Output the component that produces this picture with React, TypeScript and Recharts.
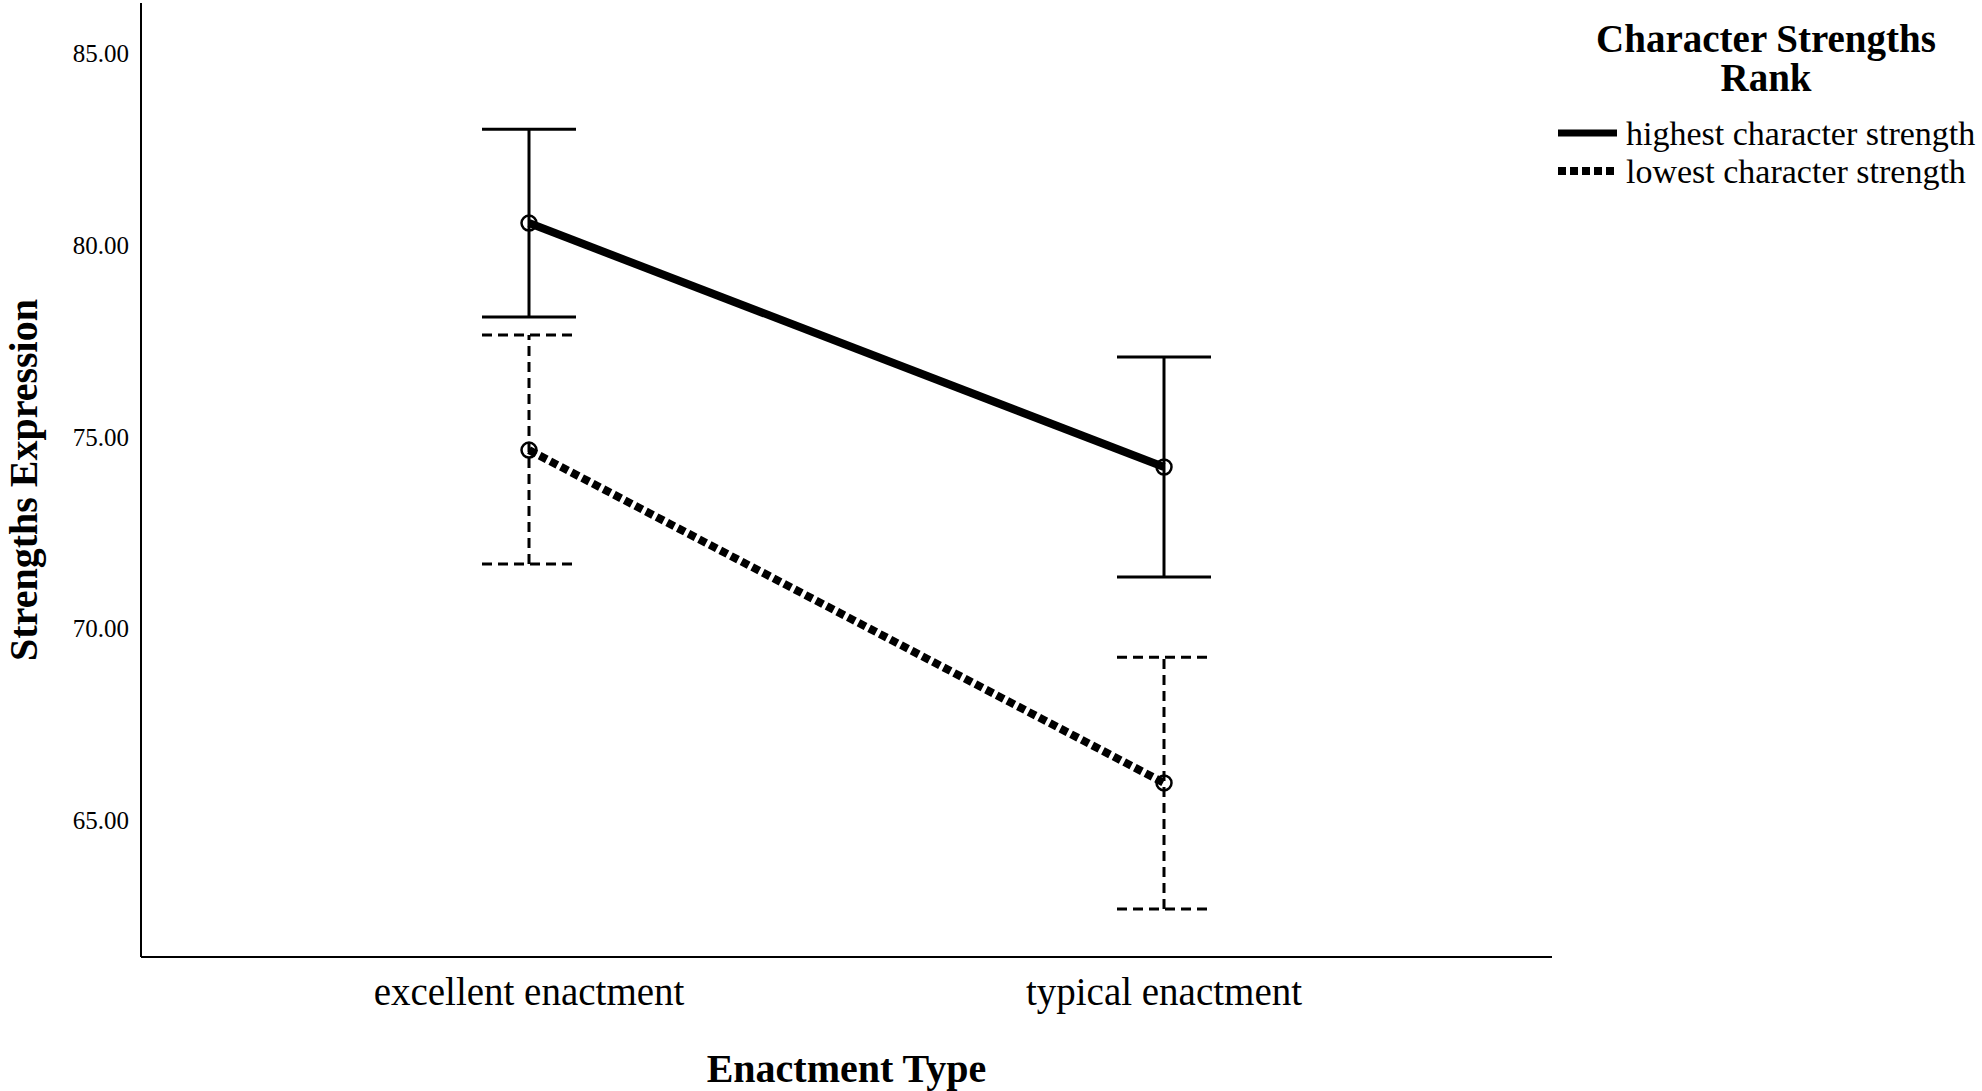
import React from 'react';
import { LineChart, Line, XAxis, YAxis, ErrorBar, Legend } from 'recharts';

const enactmentTypes = ['excellent enactment', 'typical enactment'];

// highest character strength: mean and CI bounds
const highestMean = [80.57, 74.21];
const highestLower = [78.12, 71.34];
const highestUpper = [83.02, 77.08];

// lowest character strength
const lowestMean = [74.65, 65.97];
const lowestLower = [71.68, 62.68];
const lowestUpper = [77.65, 69.25];

const yTicks = [65, 70, 75, 80, 85];
const seriesNames = ['highest character strength', 'lowest character strength'];

const data = enactmentTypes.map((type, i) => ({
    type,
    highest: highestMean[i],
    highestErr: [highestMean[i] - highestLower[i], highestUpper[i] - highestMean[i]],
    lowest: lowestMean[i],
    lowestErr: [lowestMean[i] - lowestLower[i], lowestUpper[i] - lowestMean[i]],
}));

const FONT = '"Liberation Serif", "Times New Roman", serif';

const renderLegend = () => (
    <svg width={442} height={200} style={{ overflow: 'visible' }}>
        <text x={226} y={52} textAnchor="middle" fontFamily={FONT} fontWeight="bold" fontSize={39} fill="#000">Character Strengths</text>
        <text x={226} y={91} textAnchor="middle" fontFamily={FONT} fontWeight="bold" fontSize={39} fill="#000">Rank</text>
        <line x1={18} y1={133} x2={77} y2={133} stroke="#000" strokeWidth={7} />
        <text x={86} y={145} fontFamily={FONT} fontSize={34} fill="#000">{seriesNames[0]}</text>
        <line x1={18} y1={171} x2={77} y2={171} stroke="#000" strokeWidth={8} strokeDasharray="8 4" />
        <text x={86} y={183} fontFamily={FONT} fontSize={34} fill="#000">{seriesNames[1]}</text>
    </svg>
);

const YLabel = (props: any) => {
    const vb = props.viewBox;
    const cx = vb.x + 37;
    const cy = vb.y + vb.height / 2;
    return (
        <text x={cx} y={cy} transform={`rotate(-90, ${cx}, ${cy})`} textAnchor="middle" fontFamily={FONT} fontWeight="bold" fontSize={40} fill="#000">
            Strengths Expression
        </text>
    );
};

const XLabel = (props: any) => {
    const vb = props.viewBox;
    return (
        <text x={vb.x + vb.width / 2} y={vb.y + 125} textAnchor="middle" fontFamily={FONT} fontWeight="bold" fontSize={40} fill="#000">
            Enactment Type
        </text>
    );
};

export default function App() {
    return (
        <div style={{ position: 'absolute', left: 0, top: 0, background: '#fff', fontFamily: FONT }}>
            <LineChart width={1982} height={1091} data={data} margin={{ top: 3, right: 430, bottom: 0, left: 0 }}>
                <XAxis
                    dataKey="type"
                    height={134}
                    padding={{ left: 388, right: 388 }}
                    tickLine={false}
                    tickSize={0}
                    tickMargin={20}
                    axisLine={{ stroke: '#000', strokeWidth: 2 }}
                    tick={{ fill: '#000', fontSize: 39, fontFamily: FONT }}
                    label={XLabel}
                />
                <YAxis
                    width={141}
                    domain={[61.43, 86.31]}
                    ticks={yTicks}
                    allowDataOverflow
                    tickFormatter={(v: number) => v.toFixed(2)}
                    tickLine={false}
                    tickSize={0}
                    tickMargin={12}
                    axisLine={{ stroke: '#000', strokeWidth: 2 }}
                    tick={{ fill: '#000', fontSize: 25, fontFamily: FONT }}
                    label={YLabel}
                />
                <Legend layout="vertical" align="center" verticalAlign="middle" content={renderLegend}
                    wrapperStyle={{ left: 1540, top: 0, width: 442, height: 200 }} />
                <Line
                    type="linear"
                    dataKey="highest"
                    name={seriesNames[0]}
                    stroke="#000"
                    strokeWidth={8}
                    dot={{ r: 7.5, fill: 'none', stroke: '#000', strokeWidth: 2.5, strokeDasharray: 'none' }}
                    activeDot={false}
                    isAnimationActive={false}
                >
                    <ErrorBar dataKey="highestErr" direction="y" width={47} stroke="#000" strokeWidth={3} />
                </Line>
                <Line
                    type="linear"
                    dataKey="lowest"
                    name={seriesNames[1]}
                    stroke="#000"
                    strokeWidth={8}
                    strokeDasharray="8 4"
                    dot={{ r: 7.5, fill: 'none', stroke: '#000', strokeWidth: 2.5, strokeDasharray: 'none' }}
                    activeDot={false}
                    isAnimationActive={false}
                >
                    <ErrorBar dataKey="lowestErr" direction="y" width={47} stroke="#000" strokeWidth={3} strokeDasharray="10 6" />
                </Line>
            </LineChart>
        </div>
    );
}
